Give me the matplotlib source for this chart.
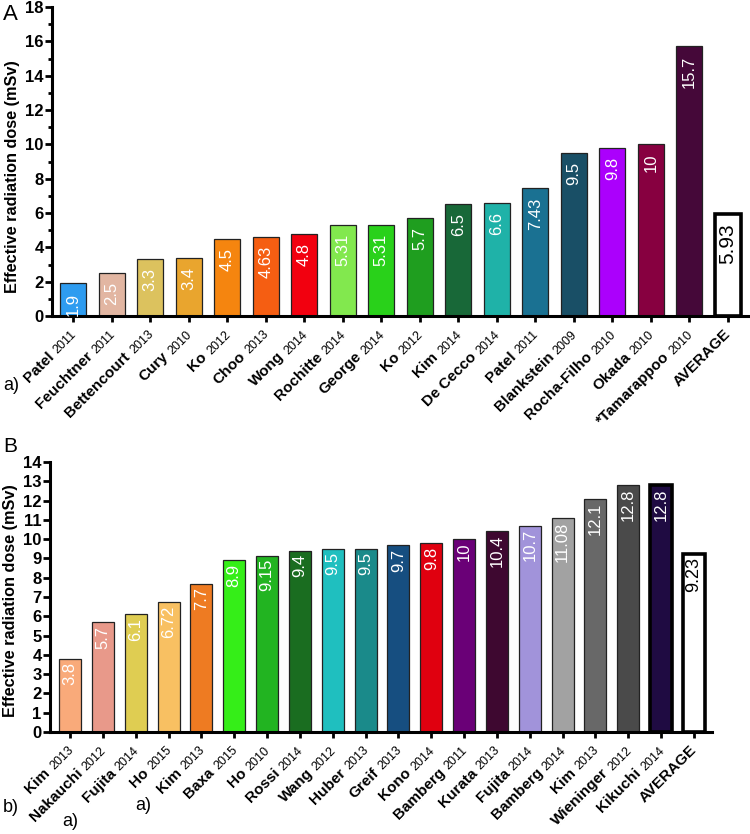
import matplotlib
matplotlib.use("Agg")
import matplotlib.pyplot as plt
from matplotlib.font_manager import FontProperties
import numpy as np

plt.rcParams['font.family'] = ['Liberation Sans', 'DejaVu Sans']

# panel A
a_names = ["Patel", "Feuchtner", "Bettencourt", "Cury", "Ko", "Choo", "Wong", "Rochitte",
           "George", "Ko", "Kim", "De Cecco", "Patel", "Blankstein", "Rocha-Filho", "Okada",
           "*Tamarappoo", "AVERAGE"]
a_years = ["2011", "2011", "2013", "2010", "2012", "2013", "2014", "2014",
           "2014", "2012", "2014", "2014", "2011", "2009", "2010", "2010", "2010", ""]
a_values = [1.9, 2.5, 3.3, 3.4, 4.5, 4.63, 4.8, 5.31, 5.31, 5.7, 6.5, 6.6, 7.43, 9.5, 9.8, 10, 15.7, 5.93]
a_colors = ["#2e9cf0", "#e2b6a2", "#dcc25e", "#e9a52e", "#f5850f", "#f55e12", "#f2000f", "#82e84e",
            "#29d11a", "#1f9e1f", "#186838", "#1fb2a8", "#1a7192", "#194f66", "#ab00fc", "#870040",
            "#450839", "#ffffff"]

# panel B
b_names = ["Kim", "Nakauchi", "Fujita", "Ho", "Kim", "Baxa", "Ho", "Rossi", "Wang", "Huber",
           "Greif", "Kono", "Bamberg", "Kurata", "Fujita", "Bamberg", "Kim", "Wieninger",
           "Kikuchi", "AVERAGE"]
b_years = ["2013", "2012", "2014", "2015", "2013", "2015", "2010", "2014", "2012", "2013",
           "2013", "2014", "2011", "2013", "2014", "2014", "2013", "2012", "2014", ""]
b_values = [3.8, 5.7, 6.1, 6.72, 7.7, 8.9, 9.15, 9.4, 9.5, 9.5, 9.7, 9.8, 10, 10.4, 10.7,
            11.08, 12.1, 12.8, 12.8, 9.23]
b_colors = ["#f9aa7a", "#e8998a", "#dfcd52", "#f8c062", "#ee7b22", "#35ee18", "#22b421", "#1a6d20",
            "#1fbfbf", "#1a8a8a", "#164e80", "#e0000f", "#6a0077", "#3e0830", "#a193da", "#a2a2a2",
            "#686868", "#4a4a4a", "#1f0b42", "#ffffff"]

fig = plt.figure(figsize=(7.5, 8.34), dpi=100)
axA = fig.add_axes([0.0693, 0.6211, 0.9294, 0.3705])
axB = fig.add_axes([0.0667, 0.1223, 0.8827, 0.3237])
renderer = fig.canvas.get_renderer()

NAME_SIZE = 11
YEAR_SIZE = 9
fp_year = FontProperties(family='Liberation Sans', size=YEAR_SIZE)
fp_space = FontProperties(family='Liberation Sans', size=NAME_SIZE, weight='bold')


def text_w(s, fp):
    w, h, d = renderer.get_text_width_height_descent(s, fp, ismath=False)
    return w * 72 / fig.dpi


def draw_panel(ax, names, years, values, colors, thick, ymax, ystep, xlim, lab_off, avg_size):
    x = np.arange(len(values))
    edges = ['black' if t else '#222222' for t in thick]
    lws = [2.6 if t else 0.9 for t in thick]
    ax.bar(x, values, width=0.67, color=colors, edgecolor=edges, linewidth=lws, zorder=2)
    for xi, v, c in zip(x, values, colors):
        avg = c == '#ffffff'
        ax.annotate(f"{v:g}", (xi, v), xytext=(0, lab_off), textcoords='offset points',
                    rotation=90, ha='center', va='top', color='black' if avg else 'white',
                    fontsize=avg_size if avg else 12, zorder=3)
    ax.set_xlim(*xlim)
    ax.set_ylim(0, ymax)
    ax.set_yticks(np.arange(0, ymax + 0.1, ystep))
    ax.set_xticks(x)
    ax.set_xticklabels([])
    for s in ['top', 'right']:
        ax.spines[s].set_visible(False)
    for s in ['left', 'bottom']:
        ax.spines[s].set_linewidth(2.2)
    ax.tick_params(axis='y', width=2, length=5, labelsize=12, pad=1)
    ax.tick_params(axis='x', width=2, length=4)
    for lab in ax.get_yticklabels():
        lab.set_fontweight('bold')
    ax.set_ylabel("Effective radiation dose (mSv)", fontsize=11.7, fontweight='bold')
    # tick labels: bold name + smaller year
    for xi, n, y in zip(x, names, years):
        ox, oy = 2.5, -13.5
        ax.annotate(y, xy=(xi, 0), xycoords=('data', 'axes fraction'), xytext=(ox, oy),
                    textcoords='offset points', rotation=45, rotation_mode='anchor',
                    ha='right', va='baseline', fontsize=YEAR_SIZE, annotation_clip=False)
        shift = text_w(y, fp_year) + (text_w(" ", fp_space) if y else 0)
        ax.annotate(n, xy=(xi, 0), xycoords=('data', 'axes fraction'),
                    xytext=(ox - shift * 0.7071, oy - shift * 0.7071),
                    textcoords='offset points', rotation=45, rotation_mode='anchor',
                    ha='right', va='baseline', fontsize=NAME_SIZE, fontweight='bold',
                    annotation_clip=False)


draw_panel(axA, a_names, a_years, a_values, a_colors,
           [False] * 17 + [True], 18, 2, (-0.55, 17.55), -6.5, 15)
axA.set_yticks(np.arange(1, 18, 2), minor=True)
axA.tick_params(axis='y', which='minor', width=2, length=3)
axA.yaxis.set_label_coords(-0.046, 0.45)

draw_panel(axB, b_names, b_years, b_values, b_colors,
           [False] * 18 + [True, True], 14, 1, (-0.61, 19.55), -2.5, 13)
axB.yaxis.set_label_coords(-0.048, 0.485)

fig.text(3 / 750, 1 - 4 / 834, "A", fontsize=16, va='top')
fig.text(3 / 750, 1 - 437 / 834, "B", fontsize=15, va='top')
fig.text(3 / 750, 1 - 385 / 834, "a)", fontsize=13, va='center')
fig.text(3 / 750, 1 - 807 / 834, "b)", fontsize=13, va='center')
fig.text(62 / 750, 1 - 822 / 834, "a)", fontsize=13, va='center')
fig.text(135 / 750, 1 - 805 / 834, "a)", fontsize=13, va='center')

fig.savefig("out.png", dpi=100)
